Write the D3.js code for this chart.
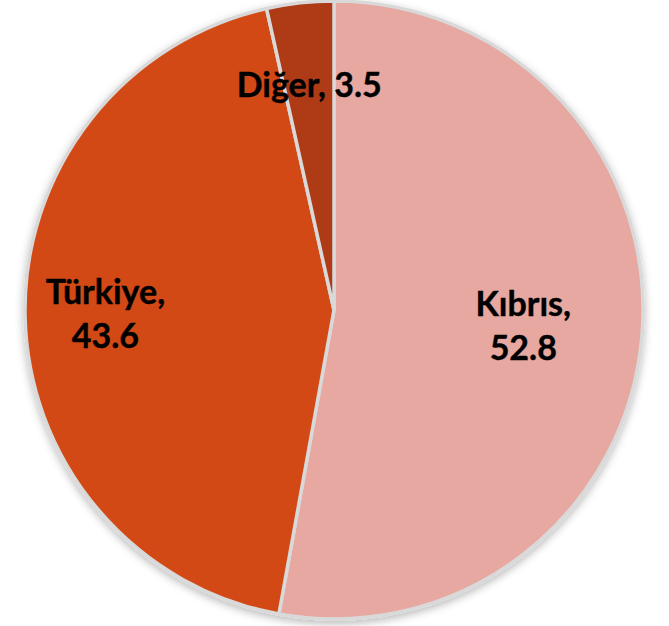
<!DOCTYPE html>
<html>
<head>
<meta charset="utf-8">
<script src="https://cdn.jsdelivr.net/npm/d3@7"></script>
<style>
  html, body { margin: 0; padding: 0; background: #fff; }
  svg { display: block; }
</style>
</head>
<body>
<div id="chart"></div>
<script>
// Veriler (dilim sırası: saat 12'den saat yönünde)
const categories = ['Kıbrıs', 'Türkiye', 'Diğer'];
const values = [52.8, 43.6, 3.5];
const colors = ['#e6a8a0', '#d34a18', '#ae3a14'];
// etiket konumu: yarıçap oranı ve satır düzeni
const labelRadius = [0.615, 0.74, 0.73];
const labelLines = [
  ['Kıbrıs,', '52.8'],
  ['Türkiye,', '43.6'],
  ['Diğer, 3.5']
];

const width = 669, height = 626;
const cx = 334, cy = 310, R = 309;

const svg = d3.select('#chart').append('svg')
  .attr('width', width).attr('height', height);

const defs = svg.append('defs');
const f = defs.append('filter').attr('id', 'shadow')
  .attr('x', '-10%').attr('y', '-10%').attr('width', '120%').attr('height', '120%');
f.append('feDropShadow').attr('dx', 0).attr('dy', 3).attr('stdDeviation', 4)
  .attr('flood-color', '#000').attr('flood-opacity', 0.28);

const data = categories.map((c, i) => ({ name: c, value: values[i], i }));

const pie = d3.pie().value(d => d.value).sort(null);
const arcs = pie(data);
const arc = d3.arc().innerRadius(0).outerRadius(R);

const g = svg.append('g').attr('transform', `translate(${cx},${cy})`);

g.append('g').attr('filter', 'url(#shadow)')
  .selectAll('path')
  .data(arcs)
  .join('path')
  .attr('d', arc)
  .attr('fill', d => colors[d.data.i])
  .attr('stroke', '#d9d9d9')
  .attr('stroke-width', 3.5)
  .attr('stroke-linejoin', 'round');

// Etiketler
const lineH = 44;
arcs.forEach(a => {
  const k = a.data.i;
  const rr = R * labelRadius[k];
  const ang = (a.startAngle + a.endAngle) / 2;
  const x = Math.sin(ang) * rr;
  const y = -Math.cos(ang) * rr;
  const lines = labelLines[k];
  const t = g.append('text')
    .attr('text-anchor', 'middle')
    .attr('font-family', 'Lato, "Open Sans", sans-serif')
    .attr('font-weight', 'bold')
    .attr('font-size', 34)
    .attr('fill', '#000')
    .attr('stroke', '#000')
    .attr('stroke-width', 0.4);
  const y0 = y - (lines.length - 1) * lineH / 2 + 11;
  lines.forEach((s, j) => {
    t.append('tspan').attr('x', x).attr('y', y0 + j * lineH).text(s);
  });
});
</script>
</body>
</html>
